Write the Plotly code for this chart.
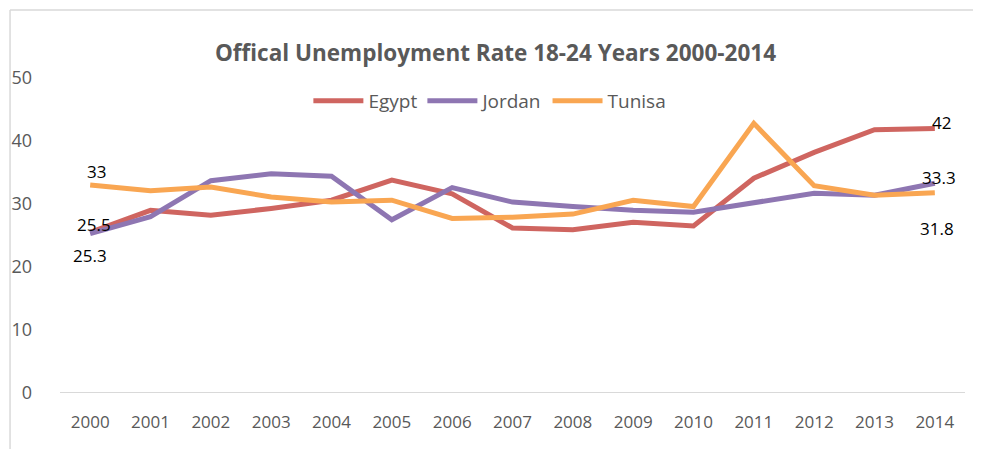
import plotly.graph_objects as go

years = [str(y) for y in range(2000, 2015)]
egypt = [25.5, 29.0, 28.2, 29.3, 30.6, 33.8, 31.6, 26.2, 25.9, 27.1, 26.5, 34.1, 38.2, 41.8, 42.0]
jordan = [25.3, 28.0, 33.7, 34.8, 34.4, 27.5, 32.6, 30.3, 29.6, 29.0, 28.7, 30.3, 31.7, 31.4, 33.3]
tunisa = [33.0, 32.1, 32.7, 31.1, 30.3, 30.6, 27.7, 27.9, 28.4, 30.6, 29.6, 42.8, 32.9, 31.4, 31.8]

series = [("Egypt", egypt, "#CF6560"), ("Jordan", jordan, "#8E76B2"), ("Tunisa", tunisa, "#F9A652")]

FONT = "Open Sans, Liberation Sans, sans-serif"

fig = go.Figure()
for name, vals, col in series:
    fig.add_trace(go.Scatter(x=years, y=vals, name=name, mode="lines",
                             line=dict(color=col, width=5)))

lab_font = dict(family=FONT, size=17, color="#000000")
first, last = 0, len(years) - 1
labels = [
    (first, tunisa[0], "33", 6, 14),
    (first, egypt[0], "25.5", 4, 8),
    (first, jordan[0], "25.3", 0, -22),
    (last, egypt[-1], "42", 7, 6),
    (last, jordan[-1], "33.3", 4, 6),
    (last, tunisa[-1], "31.8", 2, -36),
]
for x, y, t, xs, ys in labels:
    fig.add_annotation(x=x, y=y, xref="x", yref="y", text=t, showarrow=False,
                       xshift=xs, yshift=ys, font=lab_font)

fig.update_layout(
    width=973, height=441,
    margin=dict(l=52, r=16, t=70, b=56, autoexpand=False),
    paper_bgcolor="white", plot_bgcolor="white",
    font=dict(family=FONT, color="#595959"),
    title=dict(text="<b>Offical Unemployment Rate 18-24 Years 2000-2014</b>",
               x=0.501, xanchor="center", y=0.897, yanchor="middle",
               font=dict(size=22.5, color="#595959")),
    legend=dict(orientation="h", x=0.475, xanchor="center", y=0.927, yanchor="middle",
                font=dict(size=19, color="#595959"), bgcolor="rgba(0,0,0,0)",
                tracegroupgap=0, itemwidth=50),
    showlegend=True,
    xaxis=dict(type="category", range=[-0.5, 14.5], showgrid=False, showline=False,
               zeroline=False, tickfont=dict(size=17, color="#595959"), ticks="",
               ticklabelstandoff=17, automargin=False),
    yaxis=dict(range=[0, 50], dtick=10, showgrid=False, zeroline=False, showline=False,
               tickfont=dict(size=18, color="#595959"), ticks="", ticklabelstandoff=27,
               automargin=False),
    shapes=[
        dict(type="line", xref="paper", yref="y", x0=0, x1=1, y0=0, y1=0,
             line=dict(color="#D9D9D9", width=2)),
        dict(type="line", xref="paper", yref="paper", x0=-0.0552, x1=-0.0552, y0=-0.2, y1=1.216,
             line=dict(color="#D9D9D9", width=1.5)),
        dict(type="line", xref="paper", yref="paper", x0=-0.0552, x1=1.05, y0=1.216, y1=1.216,
             line=dict(color="#D9D9D9", width=1.5)),
    ],
)

fig.write_html("out.html")
